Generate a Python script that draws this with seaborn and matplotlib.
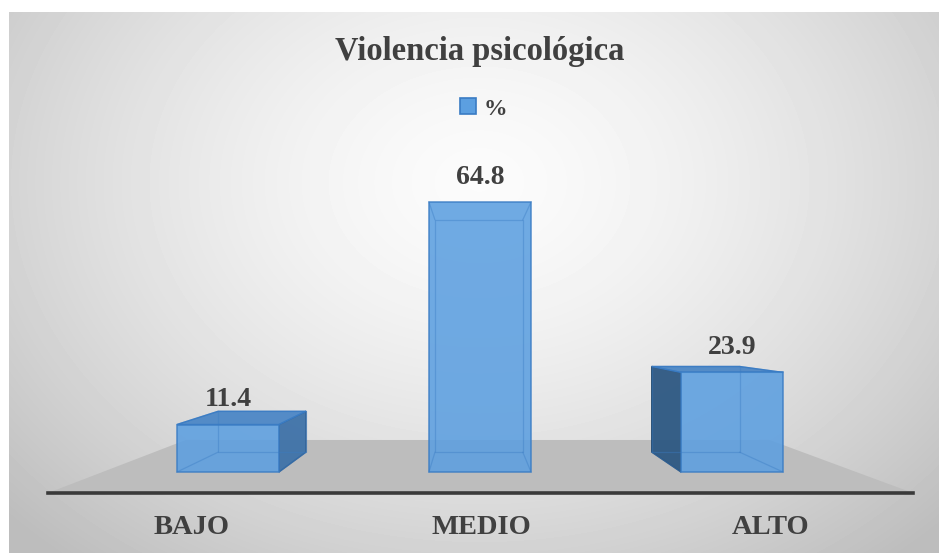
import numpy as np
import matplotlib
matplotlib.use("Agg")
import matplotlib.pyplot as plt
import seaborn as sns
from matplotlib.patches import Polygon, Rectangle

# data
categories = ["BAJO", "MEDIO", "ALTO"]
values = [11.4, 64.8, 23.9]
series_name = "%"
title = "Violencia psicológica"

sns.set_theme(style="white")
plt.rcParams["font.family"] = ["Liberation Serif", "DejaVu Serif"]
plt.rcParams["font.weight"] = "bold"
txt = "#404040"

W, H = 939, 555
fig = plt.figure(figsize=(W / 100, H / 100), dpi=100)
fig.patch.set_facecolor("white")

# chart area with radial grey gradient
bg = fig.add_axes([9 / W, 2 / H, 930 / W, 541 / H])
yy, xx = np.mgrid[0:541, 0:930]
r = np.sqrt(((xx - 470) / 560.0) ** 2 + ((yy - 170) / 430.0) ** 2)
shade = np.clip(0.985 - 0.2 * r ** 1.5, 0.74, 0.985)
bg.imshow(shade, cmap="gray", vmin=0, vmax=1, aspect="auto", interpolation="bilinear")
bg.set_axis_off()

# main plot axes
ax = fig.add_axes([48 / W, (H - 493) / H, 865 / W, (493 - 140) / H])
ax.patch.set_alpha(0)

front = "#5c9fe0"
sns.barplot(x=categories, y=values, color=front, width=0.405, saturation=1,
            edgecolor="#3a7cc4", linewidth=1.1, alpha=0.88, ax=ax, zorder=5)

xlo, xhi = -0.714, 2.718
ylo, yhi = -5.04, 79.68
ax.set_xlim(xlo, xhi)
ax.set_ylim(ylo, yhi)

# perspective: vanishing point and depth ratios
vx, vy = 0.968, 34.1
k_bar = 0.86      # back face of bar vs front face
k_floor = 0.675   # floor back edge vs floor front edge
k_front = (vy - 0) / (vy - ylo)  # bar front plane vs floor front


def proj(pt, k):
    return (vx + (pt[0] - vx) * k, vy + (pt[1] - vy) * k)


# floor
f0, f1 = (xlo, ylo), (xhi, ylo)
floor = [f0, f1, proj(f1, k_floor), proj(f0, k_floor)]
ax.add_patch(Polygon(floor, closed=True, facecolor="#bdbdbd", edgecolor="none", zorder=1))

# 3D faces for each bar
for p in ax.patches:
    if not isinstance(p, Rectangle) or p.get_height() <= 0:
        continue
    x0, x1 = p.get_x(), p.get_x() + p.get_width()
    y0, y1 = 0.0, p.get_height()
    fr = [(x0, y0), (x1, y0), (x1, y1), (x0, y1)]
    bk = [proj(c, k_bar) for c in fr]
    # hidden edges (seen through the transparent front)
    hid = dict(color="#3a7cc4", lw=0.9, alpha=0.4, zorder=6)
    ax.plot([bk[0][0], bk[1][0], bk[2][0], bk[3][0], bk[0][0]],
            [bk[0][1], bk[1][1], bk[2][1], bk[3][1], bk[0][1]], **hid)
    for a, b in zip(fr, bk):
        ax.plot([a[0], b[0]], [a[1], b[1]], **hid)
    # visible side and top faces
    if vx > x1:
        ax.add_patch(Polygon([fr[1], bk[1], bk[2], fr[2]], facecolor="#3f72a8",
                             edgecolor="#2f5f93", lw=1, alpha=0.95, zorder=4))
    if vx < x0:
        ax.add_patch(Polygon([fr[0], bk[0], bk[3], fr[3]], facecolor="#2d5882",
                             edgecolor="#244a70", lw=1, alpha=0.95, zorder=4))
    if vy > y1:
        ax.add_patch(Polygon([fr[3], fr[2], bk[2], bk[3]], facecolor="#4c87c6",
                             edgecolor="#3a7cc4", lw=1, alpha=0.95, zorder=4))

ax.bar_label(ax.containers[0], labels=[f"{v:.1f}" for v in values], padding=9,
             fontsize=20, fontweight="bold", color=txt)

# category labels on the floor front edge
ticks = [vx + (i - vx) / k_front for i in range(len(categories))]
ax.set_xticks(ticks, labels=categories)
ax.tick_params(axis="x", length=0, pad=16, labelsize=20.5, labelcolor=txt)
ax.set_yticks([])
ax.set_xlabel("")
ax.set_ylabel("")
for s in ["top", "left", "right"]:
    ax.spines[s].set_visible(False)
ax.spines["bottom"].set_color("#3a3a3a")
ax.spines["bottom"].set_linewidth(2.6)
ax.spines["bottom"].set_zorder(7)

fig.text(480 / W, 1 - 60 / H, title, ha="center", va="baseline", fontsize=23.5,
         fontweight="bold", color=txt)
handle = Rectangle((0, 0), 1, 1, facecolor=front, edgecolor="#3a7cc4", lw=1.2)
fig.legend([handle], [series_name], loc="center", bbox_to_anchor=(484 / W, 1 - 109 / H),
           frameon=False, fontsize=17, handlelength=0.65, handleheight=0.65,
           handletextpad=0.35, labelcolor=txt)

fig.savefig("out.png", dpi=100)
